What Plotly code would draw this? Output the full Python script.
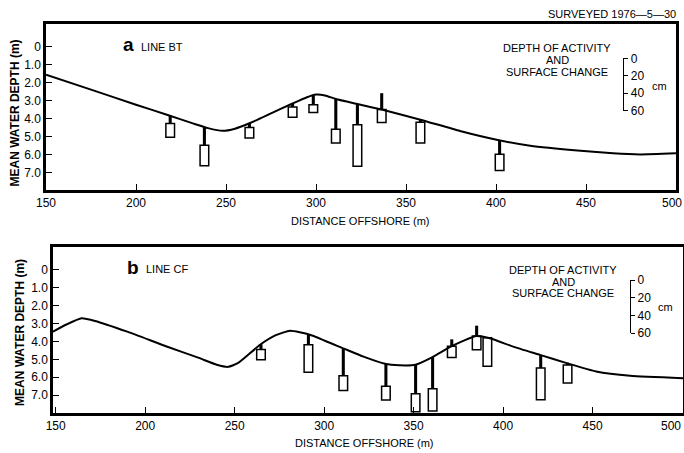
import numpy as np
import plotly.graph_objects as go

# ---------------- data ----------------
# Beach profile, line BT (distance offshore m, mean water depth m)
dist_a = [150, 175, 200, 218, 232, 240, 248, 255, 263, 275, 287, 295, 300, 305, 311,
          323, 337, 358, 380, 401, 419, 447, 465, 480, 500]
depth_a = [1.55, 2.38, 3.22, 3.80, 4.27, 4.52, 4.67, 4.55, 4.25, 3.70, 3.15, 2.80, 2.65, 2.70, 2.90,
           3.18, 3.50, 4.05, 4.68, 5.18, 5.50, 5.78, 5.92, 5.98, 5.92]

# Beach profile, line CF
dist_b = [148.5, 156, 164.5, 172, 190, 212, 230, 240, 246.4, 252, 264, 273, 281, 292, 311,
          322, 334, 342, 351, 360, 371, 378, 385, 392.6, 406, 420.6, 435.5, 452, 471, 500.5]
depth_b = [3.45, 3.05, 2.70, 2.85, 3.45, 4.28, 4.92, 5.30, 5.42, 5.20, 4.20, 3.65, 3.40, 3.62, 4.40,
           4.85, 5.25, 5.33, 5.30, 4.90, 4.28, 3.95, 3.69, 3.82, 4.30, 4.75, 5.21, 5.68, 5.92, 6.05]

# Rod stations: surface change (cm, negative = erosion, positive = accretion)
# and depth of activity (cm)
station_a = [219, 238, 263, 287, 298.5, 311, 323, 336.5, 358, 402]
change_a = [-9, -21, -5, -4, -11, -35, -24, 19, -3, -16]
activity_a = [16, 24, 12, 12, 9, 16, 48, 15, 24, 19]

station_b = [264.7, 291.2, 310.7, 334.5, 351.1, 360.6, 371.3, 385.2, 391.2, 421, 436]
change_b = [-6, -12, -32, -26, -34, -37, 8, 12, 0, -15, -2]
activity_b = [12, 32, 17, 16, 21, 26, 13, 16, 33, 37, 21]

x_ticks = [150, 200, 250, 300, 350, 400, 450, 500]
x_tick_labels = ["150", "200", "250", "300", "350", "400", "450", "500"]
y_ticks = [0, 1, 2, 3, 4, 5, 6, 7]
y_tick_labels = ["0", "1.0", "2.0", "3.0", "4.0", "5.0", "6.0", "7.0"]
legend_ticks = [0, 20, 40, 60]

CM = 0.048  # plotted depth (m) per cm of the rod scale

FONT = "Liberation Sans, Arial, sans-serif"
W, H = 684, 453

def px(x):
    return x / W

def py(y):
    return (H - y) / H

fig = go.Figure()

def add_panel(dist, depth, st, ch, act, xa, ya):
    fig.add_trace(go.Scatter(x=dist, y=depth, mode="lines",
                             line=dict(color="black", width=2, shape="spline", smoothing=0.5),
                             xaxis=xa, yaxis=ya, hoverinfo="skip", showlegend=False))
    surf = np.interp(st, dist, depth)
    ch = np.array(ch, dtype=float)
    act = np.array(act, dtype=float)
    stem_base = np.where(ch < 0, surf, surf - ch * CM)
    stem_len = np.abs(ch) * CM
    box_base = np.where(ch < 0, surf - ch * CM, surf)
    box_len = act * CM
    fig.add_trace(go.Bar(x=st, y=stem_len, base=stem_base, width=1.7,
                         marker=dict(color="black", line=dict(width=0)),
                         xaxis=xa, yaxis=ya, hoverinfo="skip", showlegend=False))
    fig.add_trace(go.Bar(x=st, y=box_len, base=box_base, width=4.8,
                         marker=dict(color="white", line=dict(color="black", width=1.5)),
                         xaxis=xa, yaxis=ya, hoverinfo="skip", showlegend=False))

add_panel(dist_a, depth_a, station_a, change_a, activity_a, "x", "y")
add_panel(dist_b, depth_b, station_b, change_b, activity_b, "x2", "y2")

# dummy traces for the rod-scale legend axes
fig.add_trace(go.Scatter(x=[0], y=[0], mode="markers", marker=dict(opacity=0),
                         xaxis="x3", yaxis="y3", hoverinfo="skip", showlegend=False))
fig.add_trace(go.Scatter(x=[0], y=[0], mode="markers", marker=dict(opacity=0),
                         xaxis="x4", yaxis="y4", hoverinfo="skip", showlegend=False))

axis_common = dict(showline=True, linecolor="black", linewidth=2.5, mirror=True,
                   showgrid=False, zeroline=False, ticks="inside", ticklen=6,
                   tickwidth=1.3, tickcolor="black", automargin=False,
                   tickfont=dict(family=FONT, size=12, color="black"))

# the right-edge tick label is drawn separately (shifted inward) so it stays on the page
x_text = list(x_tick_labels)
x_text[-1] = ""

leg_axis = dict(showline=True, linecolor="black", linewidth=1.3, ticks="outside", ticklen=4,
                tickwidth=1.3, tickcolor="black", side="right", range=[60, 0],
                tickvals=legend_ticks, showgrid=False, zeroline=False, automargin=False,
                tickfont=dict(family=FONT, size=12, color="black"))
leg_x = dict(visible=False, range=[0, 1], automargin=False)

fig.update_layout(
    width=W, height=H, margin=dict(l=0, r=0, t=0, b=0, autoexpand=False),
    paper_bgcolor="white", plot_bgcolor="white", barmode="overlay",
    showlegend=False,
    xaxis=dict(domain=[px(46), px(676)], range=[150, 500], anchor="y",
               tickvals=x_ticks, ticktext=x_text, **axis_common),
    yaxis=dict(domain=[py(190), py(24)], range=[7.96, -1.27], anchor="x",
               tickvals=y_ticks, ticktext=y_tick_labels, **axis_common),
    xaxis2=dict(domain=[px(53), px(683)], range=[148.5, 500.5], anchor="y2",
                tickvals=x_ticks, ticktext=x_text, **axis_common),
    yaxis2=dict(domain=[py(413), py(246.7)], range=[8.0, -1.3], anchor="x2",
                tickvals=y_ticks, ticktext=y_tick_labels, **axis_common),
    xaxis3=dict(domain=[px(615), px(623.3)], anchor="y3", **leg_x),
    yaxis3=dict(domain=[py(110.7), py(58.3)], anchor="x3", **leg_axis),
    xaxis4=dict(domain=[px(622), px(630)], anchor="y4", **leg_x),
    yaxis4=dict(domain=[py(333), py(280)], anchor="x4", **leg_axis),
)

# last tick label of each x axis, placed through the axis scale
fig.add_annotation(text=x_tick_labels[-1], x=x_ticks[-1], xref="x", y=py(203), yref="paper",
                   xanchor="center", yanchor="middle", xshift=-4, showarrow=False,
                   font=dict(family=FONT, size=12, color="black"))
fig.add_annotation(text=x_tick_labels[-1], x=x_ticks[-1], xref="x2", y=py(426), yref="paper",
                   xanchor="center", yanchor="middle", xshift=-11, showarrow=False,
                   font=dict(family=FONT, size=12, color="black"))

def ann(text, x, y, size=11, xanchor="center", bold=False, angle=0):
    fig.add_annotation(text=("<b>%s</b>" % text) if bold else text,
                       x=px(x), y=py(y), xref="paper", yref="paper",
                       xanchor=xanchor, yanchor="middle", showarrow=False,
                       textangle=angle, borderpad=0,
                       font=dict(family=FONT, size=size, color="black"))

ann("SURVEYED 1976\u20145\u201430", 677, 14, size=11, xanchor="right")

# axis titles
ann("DISTANCE OFFSHORE (m)", 360, 220.7, size=11)
ann("DISTANCE OFFSHORE (m)", 365, 443.3, size=11)
ann("MEAN WATER DEPTH (m)", 15, 113.5, size=12, bold=True, angle=-90)
ann("MEAN WATER DEPTH (m)", 20, 333, size=12, bold=True, angle=-90)

# panel a labels
ann("a", 128.5, 45, size=19, bold=True)
ann("LINE BT", 140, 47, size=11, xanchor="left")
for t, yy in zip(["DEPTH OF ACTIVITY", "AND", "SURFACE CHANGE"], [48.3, 60, 71.7]):
    ann(t, 557, yy, size=11)
ann("cm", 659, 86, size=11)

# panel b labels
ann("b", 133, 267, size=19, bold=True)
ann("LINE CF", 145, 269, size=11, xanchor="left")
for t, yy in zip(["DEPTH OF ACTIVITY", "AND", "SURFACE CHANGE"], [270, 281.7, 293.3]):
    ann(t, 563.3, yy, size=11)
ann("cm", 665, 306.7, size=11)

fig.write_html("out.html")
